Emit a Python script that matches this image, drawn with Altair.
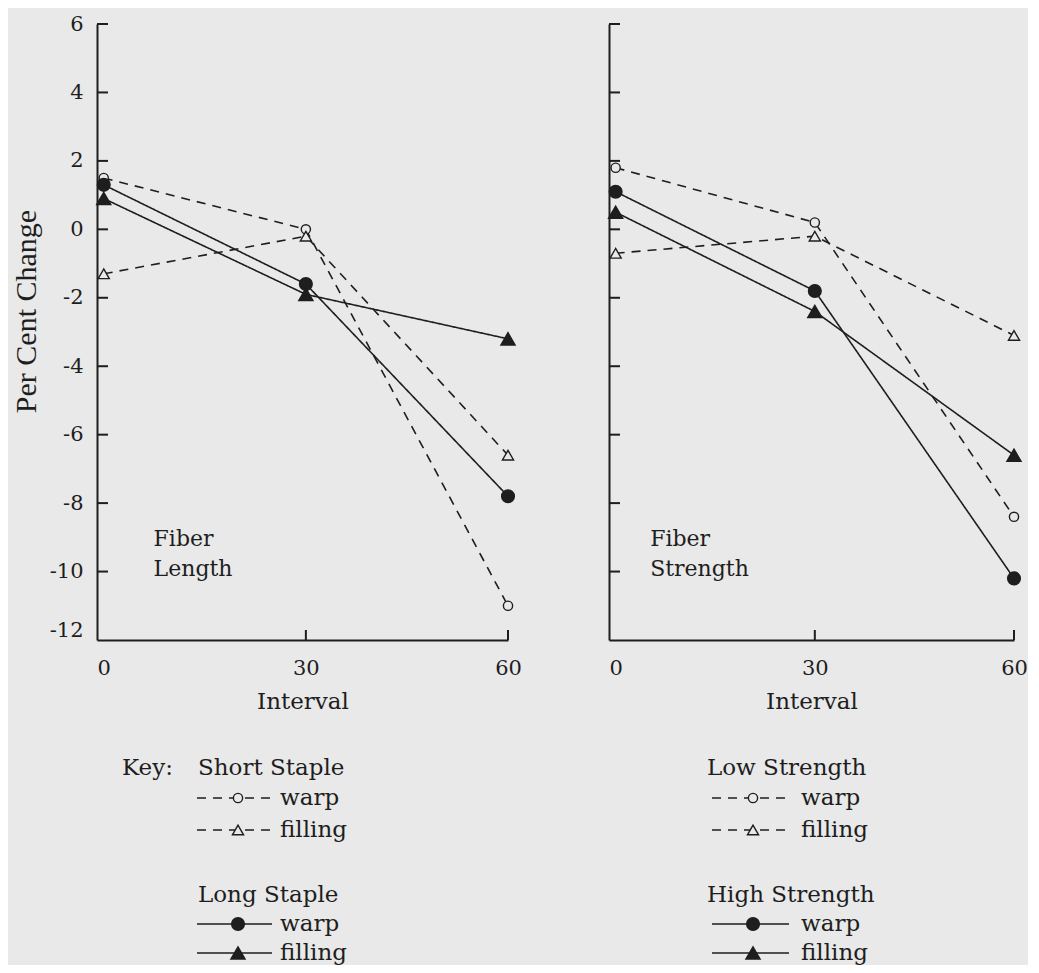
import altair as alt
import pandas as pd

# ---------------- data ----------------
intervals = [0, 30, 60]

# Fiber Length panel
length_short_warp = [1.5, 0.0, -11.0]
length_short_filling = [-1.3, -0.2, -6.6]
length_long_warp = [1.3, -1.6, -7.8]
length_long_filling = [0.9, -1.9, -3.2]

# Fiber Strength panel
strength_low_warp = [1.8, 0.2, -8.4]
strength_low_filling = [-0.7, -0.2, -3.1]
strength_high_warp = [1.1, -1.8, -10.2]
strength_high_filling = [0.5, -2.4, -6.6]

panel_labels = [["Fiber", "Length"], ["Fiber", "Strength"]]
key_groups = [["Short Staple", "Long Staple"], ["Low Strength", "High Strength"]]
yarns = ["warp", "filling"]
key_prefix = "Key:"
y_tick_values = [6, 4, 2, 0, -2, -4, -6, -8, -10, -12]
x_tick_values = [0, 30, 60]
y_title = "Per Cent Change"
x_title = "Interval"

# ---------------- style / layout ----------------
BG = "#e9e9e9"
INK = "#1e1e1e"
SERIF = "DejaVu Serif"
PLOT_H = 616
TICK_LEN = 11
X_DOMAIN = [-1, 60]
Y_DOMAIN = [-12, 6]
ANNOT_X = [7.4, 5.2]
ANNOT_Y = [-9.25, -10.12]

dash_scale = alt.Scale(domain=["dashed", "solid"], range=[[9, 7], [1, 0]])
shape_scale = alt.Scale(domain=["warp", "filling"], range=["circle", "triangle-up"])
fill_scale = alt.Scale(domain=["dashed", "solid"], range=[BG, INK])
size_scale = alt.Scale(
    domain=["dashed|warp", "dashed|filling", "solid|warp", "solid|filling"],
    range=[85, 200, 110, 240],
)


def panel(series, labels, width, show_y, annot_x):
    rows = []
    for style, yarn, vals in series:
        for t, v in zip(intervals, vals):
            rows.append(dict(interval=t, value=v, style=style, yarn=yarn,
                             series=style + yarn, sym=style + "|" + yarn))
    df = pd.DataFrame(rows)

    xscale = alt.Scale(domain=X_DOMAIN, nice=False, zero=False)
    yscale = alt.Scale(domain=Y_DOMAIN, nice=False, zero=False)

    xaxis = alt.Axis(values=x_tick_values, ticks=False, grid=False,
                     domainColor=INK, domainWidth=2, labelFlush=False,
                     labelFont=SERIF, labelFontSize=21, labelColor=INK,
                     labelPadding=17, labelAngle=0,
                     title=x_title, titleFont=SERIF, titleFontSize=23,
                     titleFontWeight="normal", titleColor=INK, titlePadding=12)
    if show_y:
        yaxis = alt.Axis(values=y_tick_values, ticks=False, grid=False,
                         domainColor=INK, domainWidth=2,
                         labelFont=SERIF, labelFontSize=21, labelColor=INK,
                         labelPadding=14, labelExpr="datum.value + ''",
                         labelOffset={"condition": {"test": "datum.value == -12", "value": -10},
                                      "value": 0},
                         title=y_title, titleFont="Liberation Serif", titleFontSize=30,
                         titleFontWeight="normal", titleColor=INK, titlePadding=4,
                         titleX=-56, titleY=287)
        ytitle = y_title
    else:
        yaxis = alt.Axis(values=y_tick_values, ticks=False, grid=False, labels=False,
                         domainColor=INK, domainWidth=2, title=None)
        ytitle = None

    X = lambda f: alt.X(f, scale=xscale, axis=xaxis, title=x_title)
    Y = lambda f: alt.Y(f, scale=yscale, axis=yaxis, title=ytitle)

    base = alt.Chart(df)
    lines = base.mark_line(color=INK, strokeWidth=1.6).encode(
        x=X("interval:Q"), y=Y("value:Q"), detail="series:N",
        strokeDash=alt.StrokeDash("style:N", scale=dash_scale, legend=None),
    )
    points = base.mark_point(filled=True, stroke=INK, strokeWidth=1.4, opacity=1).encode(
        x=X("interval:Q"), y=Y("value:Q"),
        shape=alt.Shape("yarn:N", scale=shape_scale, legend=None),
        fill=alt.Fill("style:N", scale=fill_scale, legend=None),
        size=alt.Size("sym:N", scale=size_scale, legend=None),
    )

    ytick_df = pd.DataFrame({"value": y_tick_values[:-1]})
    yticks = alt.Chart(ytick_df).mark_rule(color=INK, strokeWidth=2).encode(
        x=alt.value(0), x2=alt.value(TICK_LEN), y=Y("value:Q"))
    xtick_df = pd.DataFrame({"interval": x_tick_values[1:]})
    xticks = alt.Chart(xtick_df).mark_rule(color=INK, strokeWidth=2).encode(
        x=X("interval:Q"), y=alt.value(PLOT_H), y2=alt.value(PLOT_H - 10))

    annot_df = pd.DataFrame({"label": labels, "interval": [annot_x] * len(labels),
                             "value": ANNOT_Y[:len(labels)]})
    annot = alt.Chart(annot_df).mark_text(align="left", baseline="alphabetic", font=SERIF,
                                          fontSize=22, color=INK).encode(
        x=X("interval:Q"), y=Y("value:Q"), text="label:N")

    return alt.layer(lines, yticks, xticks, annot, points).properties(width=width, height=PLOT_H)


left = panel([("dashed", "warp", length_short_warp),
              ("dashed", "filling", length_short_filling),
              ("solid", "warp", length_long_warp),
              ("solid", "filling", length_long_filling)],
             panel_labels[0], 411, True, ANNOT_X[0])
right = panel([("dashed", "warp", strength_low_warp),
               ("dashed", "filling", strength_low_filling),
               ("solid", "warp", strength_high_warp),
               ("solid", "filling", strength_high_filling)],
              panel_labels[1], 405, False, ANNOT_X[1])

# ---------------- key (positions relative to the left plot's left edge) ----------------
KW, KH = 900, 224
KEY_LABEL_X = 25
COL_HEAD_X = [101, 610]
COL_LINE = [(100, 175, 141, 183), (615, 692, 656, 704)]  # line start, line end, symbol, label
HEAD_Y = [35, 162]
ENTRY_Y = [[65, 97], [191, 220]]
SYM_DY = -7

text_rows = [dict(label=key_prefix, kx=KEY_LABEL_X, ky=HEAD_Y[0])]
line_rows, sym_rows = [], []
for c in range(2):
    x1, x2, sx, lx = COL_LINE[c]
    for g in range(2):
        style = "dashed" if g == 0 else "solid"
        text_rows.append(dict(label=key_groups[c][g], kx=COL_HEAD_X[c], ky=HEAD_Y[g]))
        for yi, yarn in enumerate(yarns):
            yb = ENTRY_Y[g][yi]
            text_rows.append(dict(label=yarn, kx=lx, ky=yb))
            line_rows.append(dict(kx=x1, kx2=x2, ky=yb + SYM_DY, style=style))
            sym_rows.append(dict(kx=sx, ky=yb + SYM_DY, style=style, yarn=yarn,
                                 sym=style + "|" + yarn))

kx = alt.Scale(domain=[0, KW], nice=False, zero=False)
ky = alt.Scale(domain=[0, KH], nice=False, zero=False, reverse=True)

key_text = alt.Chart(pd.DataFrame(text_rows)).mark_text(
    align="left", baseline="alphabetic", font=SERIF, fontSize=23, color=INK).encode(
    x=alt.X("kx:Q", scale=kx, axis=None), y=alt.Y("ky:Q", scale=ky, axis=None), text="label:N")
key_lines = alt.Chart(pd.DataFrame(line_rows)).mark_rule(color=INK, strokeWidth=1.6).encode(
    x=alt.X("kx:Q", scale=kx, axis=None), x2="kx2:Q", y=alt.Y("ky:Q", scale=ky, axis=None),
    strokeDash=alt.StrokeDash("style:N", scale=dash_scale, legend=None))
key_syms = alt.Chart(pd.DataFrame(sym_rows)).mark_point(
    filled=True, stroke=INK, strokeWidth=1.4, opacity=1).encode(
    x=alt.X("kx:Q", scale=kx, axis=None), y=alt.Y("ky:Q", scale=ky, axis=None),
    shape=alt.Shape("yarn:N", scale=shape_scale, legend=None),
    fill=alt.Fill("style:N", scale=fill_scale, legend=None),
    size=alt.Size("sym:N", scale=size_scale, legend=None))
key = alt.layer(key_lines, key_syms, key_text).properties(width=KW, height=KH)

chart = alt.vconcat(
    alt.hconcat(left, right, spacing=83),
    key,
    spacing=27,
).configure_view(strokeWidth=0).properties(
    background=BG, padding={"left": 3, "top": 5, "right": 0, "bottom": 0})

chart.save("out.html", embed_options={"renderer": "svg", "actions": False})
